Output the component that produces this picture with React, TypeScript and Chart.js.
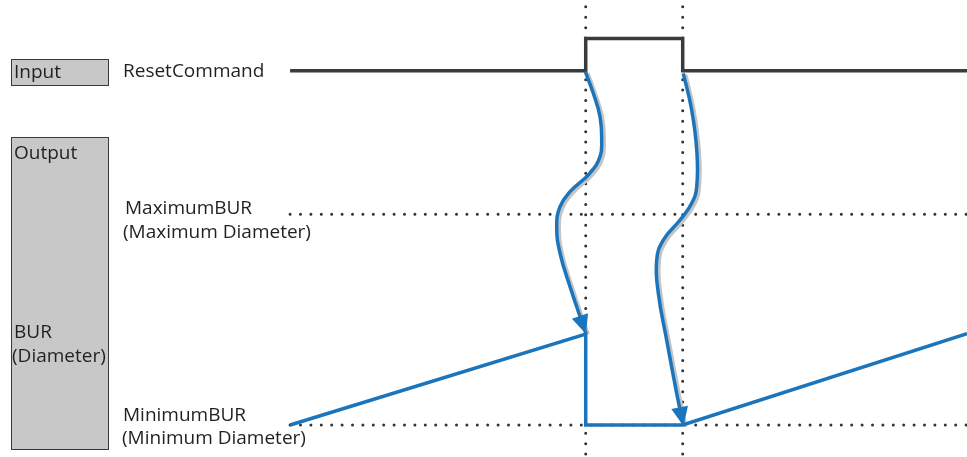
import React, { useEffect, useRef } from "react";
import { Chart, registerables } from "chart.js";

Chart.register(...registerables);

// ---- data (time axis 0..100, level axis 0..100) ----
const inputTimes = [30, 60.57, 60.57, 70.6, 70.6, 100];
const inputLevels = [84.5, 84.5, 91.6, 91.6, 84.5, 84.5];

const burTimes = [30, 60.57, 60.57, 70.6, 100];
const burLevels = [7.0, 26.9, 7.0, 7.0, 27.0];

const guideTimes = [30, 100];
const maxBurLevel = 53.1;
const minBurLevel = 7.0;
const resetTimes = [60.57, 70.6];
const resetGuideLevels = [98.5, 0];

const arrow1Times = [60.53, 61.35, 62.05, 62.22, 62.05, 61.01, 58.95, 57.91, 57.57, 57.91, 58.95, 60.57];
const arrow1Levels = [84.31, 79.58, 74.46, 69.37, 65.71, 62.14, 58.05, 54.77, 50.39, 44.64, 37.26, 27.13];
const arrow2Times = [70.66, 71.53, 72.05, 72.05, 71.53, 70.32, 68.59, 67.91, 68.08, 68.94, 69.98, 70.66];
const arrow2Levels = [83.96, 75.93, 67.18, 59.15, 55.51, 51.86, 47.48, 43.11, 35.82, 25.6, 13.94, 7.0];

const panelTitles = ["Input", "Output"];
const outputSignal = ["BUR", "(Diameter)"];
const inputSignal = "ResetCommand";
const maxLabel = ["MaximumBUR", "(Maximum Diameter)"];
const minLabel = ["MinimumBUR", "(Minimum Diameter)"];

const BLUE = "#1b75bc";
const BLACK = "#3b3b3b";
const DOT = "#333333";
const SHADOW = "#c4c4c4";
const TEXT = "#231f20";

const pts = (xs: number[], ys: number[]) => xs.map((x, i) => ({ x, y: ys[i] }));

const panelPlugin = {
  id: "panel",
  beforeDatasetsDraw(chart: any) {
    const ctx = chart.ctx;
    ctx.save();
    ctx.fillStyle = "#c8c8c9";
    ctx.strokeStyle = "#3a3a3a";
    ctx.lineWidth = 1;
    ctx.fillRect(11, 59, 98, 27);
    ctx.strokeRect(11.5, 59.5, 97, 26);
    ctx.fillRect(11, 137, 98, 313);
    ctx.strokeRect(11.5, 137.5, 97, 312);
    ctx.fillStyle = TEXT;
    ctx.font = "19px 'Open Sans'";
    ctx.textBaseline = "alphabetic";
    ctx.textAlign = "left";
    ctx.fillText(panelTitles[0], 14, 78);
    ctx.fillText(panelTitles[1], 14, 159);
    ctx.fillText(outputSignal[0], 14, 338);
    ctx.fillText(outputSignal[1], 12, 362);
    ctx.fillText(inputSignal, 123, 77);
    ctx.fillText(maxLabel[0], 125, 214);
    ctx.fillText(maxLabel[1], 123, 238);
    ctx.fillText(minLabel[0], 123, 421);
    ctx.fillText(minLabel[1], 122, 444);
    ctx.restore();
  },
};

const shadowPlugin = {
  id: "shadowShift",
  beforeDatasetDraw(chart: any, args: any) {
    const ds = chart.data.datasets[args.index] as any;
    if (ds.shadow) {
      chart.ctx.save();
      chart.ctx.translate(2, 1.5);
    }
  },
  afterDatasetDraw(chart: any, args: any) {
    const ds = chart.data.datasets[args.index] as any;
    if (ds.shadow) chart.ctx.restore();
  },
};

const arrowPlugin = {
  id: "arrowHeads",
  afterDatasetsDraw(chart: any) {
    const ctx = chart.ctx;
    chart.data.datasets.forEach((ds: any, i: number) => {
      if (!ds.arrow) return;
      const meta = chart.getDatasetMeta(i);
      const n = meta.data.length;
      const last = meta.data[n - 1];
      const prev = meta.data[n - 2];
      let fx = last.cp1x, fy = last.cp1y;
      if (fx === undefined || (Math.abs(fx - last.x) < 0.5 && Math.abs(fy - last.y) < 0.5)) {
        fx = prev.x; fy = prev.y;
      }
      const a = Math.atan2(last.y - fy, last.x - fx);
      const len = 18, half = 8.5;
      const bx = last.x - Math.cos(a) * len;
      const by = last.y - Math.sin(a) * len;
      ctx.save();
      ctx.fillStyle = BLUE;
      ctx.beginPath();
      ctx.moveTo(last.x + Math.cos(a), last.y + Math.sin(a));
      ctx.lineTo(bx + Math.cos(a + Math.PI / 2) * half, by + Math.sin(a + Math.PI / 2) * half);
      ctx.lineTo(bx - Math.cos(a + Math.PI / 2) * half, by - Math.sin(a + Math.PI / 2) * half);
      ctx.closePath();
      ctx.fill();
      ctx.restore();
    });
  },
};

export default function App() {
  const ref = useRef<HTMLCanvasElement | null>(null);
  useEffect(() => {
    if (!ref.current) return;
    const dotted = (data: any[]) => ({
      data,
      showLine: true,
      borderColor: DOT,
      borderWidth: 3,
      borderDash: [0, 10.4],
      borderCapStyle: "round",
      pointRadius: 0,
      tension: 0,
      clip: false,
      order: 10,
    });
    const curve = (xs: number[], ys: number[], shadow: boolean) =>
      ({
        data: pts(xs, ys),
        shadow,
        arrow: !shadow,
        showLine: true,
        borderColor: shadow ? SHADOW : BLUE,
        borderWidth: shadow ? 4.5 : 3.5,
        pointRadius: 0,
        tension: 0.45,
        clip: false,
        order: shadow ? 8 : 3,
      } as any);
    const chart = new Chart(ref.current, {
      type: "scatter",
      data: {
        datasets: [
          dotted(pts(guideTimes, [maxBurLevel, maxBurLevel])),
          dotted(pts(guideTimes, [minBurLevel, minBurLevel])),
          dotted(pts([resetTimes[0], resetTimes[0]], resetGuideLevels)),
          dotted(pts([resetTimes[1], resetTimes[1]], resetGuideLevels)),
          curve(arrow1Times, arrow1Levels, true),
          curve(arrow2Times, arrow2Levels, true),
          {
            data: pts(inputTimes, inputLevels),
            showLine: true,
            borderColor: BLACK,
            borderWidth: 3.5,
            borderJoinStyle: "miter",
            pointRadius: 0,
            tension: 0,
            clip: false,
            order: 5,
          },
          {
            data: pts(burTimes, burLevels),
            showLine: true,
            borderColor: BLUE,
            borderWidth: 3.5,
            borderJoinStyle: "miter",
            pointRadius: 0,
            tension: 0,
            clip: false,
            order: 4,
          },
          curve(arrow1Times, arrow1Levels, false),
          curve(arrow2Times, arrow2Levels, false),
        ],
      },
      options: {
        animation: false,
        responsive: true,
        maintainAspectRatio: false,
        layout: { padding: 0 },
        events: [],
        plugins: { legend: { display: false }, tooltip: { enabled: false } },
        scales: {
          x: { type: "linear", min: 0, max: 100, display: false },
          y: { type: "linear", min: 0, max: 100, display: false },
        },
      },
      plugins: [panelPlugin, shadowPlugin, arrowPlugin],
    });
    return () => chart.destroy();
  }, []);
  return (
    <div style={{ position: "absolute", left: 0, top: 0, width: 967, height: 457, background: "#fff" }}>
      <canvas ref={ref} />
    </div>
  );
}
